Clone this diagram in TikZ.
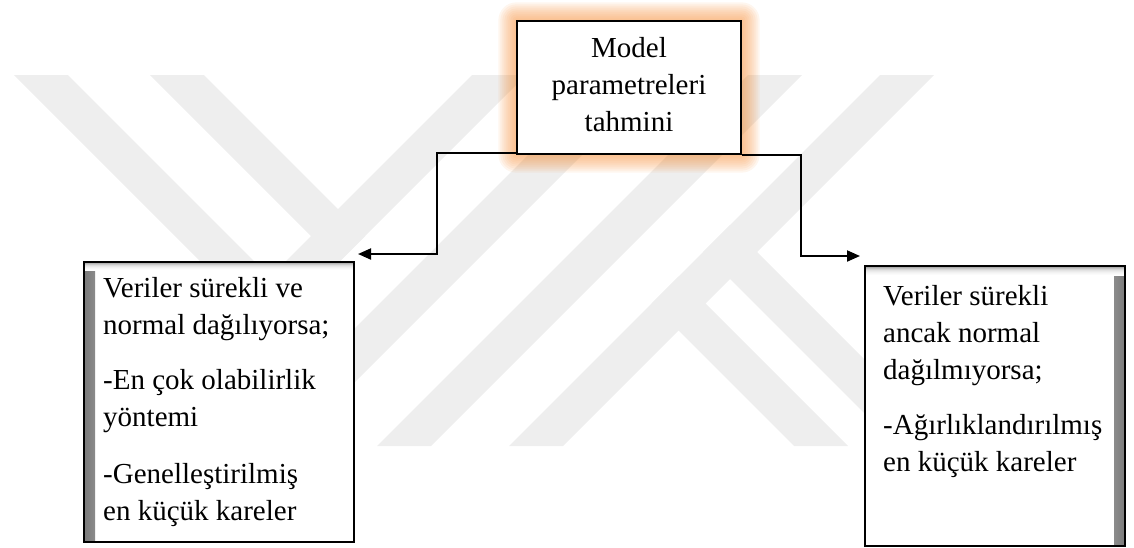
\documentclass[tikz,border=0pt]{standalone}
\usepackage{fontspec}
\setmainfont{Liberation Serif}
\usetikzlibrary{arrows.meta,calc,backgrounds}
\definecolor{markgray}{RGB}{238,238,238}
\definecolor{glowc}{RGB}{247,150,70}
% soft inner shadows (dark at the border, fading to white)
\pgfdeclarehorizontalshading{inshleft}{100bp}{color(0bp)=(black!52); color(25bp)=(black!52);
  color(32bp)=(black!30); color(45bp)=(black!12); color(60bp)=(black!4); color(75bp)=(white); color(100bp)=(white)}
\pgfdeclarehorizontalshading{inshright}{100bp}{color(0bp)=(white); color(25bp)=(white);
  color(40bp)=(black!4); color(55bp)=(black!12); color(68bp)=(black!30); color(75bp)=(black!52); color(100bp)=(black!52)}
\pgfdeclareverticalshading{inshtop}{100bp}{color(0bp)=(white); color(25bp)=(white);
  color(40bp)=(black!4); color(55bp)=(black!12); color(68bp)=(black!28); color(75bp)=(black!48); color(100bp)=(black!48)}
\begin{document}
\begin{tikzpicture}[x=1pt,y=-1pt,
  box/.style={draw=black, line width=1.3pt, fill=white, inner sep=0pt},
  conn/.style={line width=2pt, -{Triangle[length=13pt,width=11pt]}},
  txt/.style={font=\fontsize{29}{37}\selectfont, inner sep=0pt},
  wmark/.style={fill=markgray},
  halo/.style={fill=glowc, fill opacity=0.09}]
\useasboundingbox (0,0) rectangle (1134,547);

% central box
\node[box, minimum width=224pt, minimum height=133pt] (top) at (629,87.5) {};
\node[txt, anchor=base] (toptxt) at (629,57)
  {\begin{tabular}[t]{@{}c@{}}Model\\ parametreleri\\ tahmini\end{tabular}};

% side boxes with an inner shadow
\node[box, minimum width=270pt, minimum height=280pt,
  path picture={
    \shade[shading=inshleft]
      (path picture bounding box.north west) rectangle ([xshift=11pt]path picture bounding box.south west);
    \shade[shading=inshtop]
      (path picture bounding box.north west) rectangle ([yshift=-8pt]path picture bounding box.north east);
  }] (lbox) at (219,402) {};
\node[box, minimum width=260pt, minimum height=280pt,
  path picture={
    \shade[shading=inshright]
      ([xshift=-11pt]path picture bounding box.north east) rectangle (path picture bounding box.south east);
    \shade[shading=inshtop]
      (path picture bounding box.north west) rectangle ([yshift=-9pt]path picture bounding box.north east);
  }] (rbox) at (995,406) {};

\node[txt, anchor=base west] (ltxt) at (103,297) {\begin{tabular}[t]{@{}l@{}}
  Veriler sürekli ve\\ normal dağılıyorsa;\\[18.5pt]
  -En çok olabilirlik\\ yöntemi\\[19.5pt]
  -Genelleştirilmiş\\ en küçük kareler\end{tabular}};
\node[txt, anchor=base west] (rtxt) at (883,305) {\begin{tabular}[t]{@{}l@{}}
  Veriler sürekli\\ ancak normal\\ dağılmıyorsa;\\[18pt]
  -Ağırlıklandırılmış\\ en küçük kareler\end{tabular}};

% connectors
\coordinate (lbend) at (437,254);
\coordinate (lend) at (358,254);
\coordinate (rbend) at (801,256);
\coordinate (rend) at (860,256);
\draw[conn] ([yshift=2pt]top.south west) -| (lbend) -- (lend);
\draw[conn] (top.south east) -| (rbend) -- (rend);

\begin{scope}[on background layer]
  % watermark bands
  \begin{scope}
    \clip (0,75) rectangle (1134,446);
    \fill[wmark] (472,75) -- (526,75) -- (155,446) -- (101,446) -- cycle;
    \fill[wmark] (608,75) -- (662,75) -- (291,446) -- (237,446) -- cycle;
    \fill[wmark] (748,75) -- (802,75) -- (431,446) -- (377,446) -- cycle;
    \fill[wmark] (880,75) -- (934,75) -- (563,446) -- (509,446) -- cycle;
    \fill[wmark] (14,75) -- (68,75) -- (297,304) -- (270,331) -- cycle;
    \fill[wmark] (150,75) -- (204,75) -- (365,236) -- (338,263) -- cycle;
    \fill[wmark] (651.5,303.5) -- (678.5,276.5) -- (848,446) -- (794,446) -- cycle;
    \fill[wmark] (703,252) -- (730,225) -- (951,446) -- (897,446) -- cycle;
  \end{scope}
  % orange glow round the central box
  \foreach \r in {2,4,...,18}
    \fill[halo, rounded corners=\r pt]
      ([shift={(-\r,\r)}]top.south west) rectangle ([shift={(\r,-\r)}]top.north east);
\end{scope}
\end{tikzpicture}
\end{document}
